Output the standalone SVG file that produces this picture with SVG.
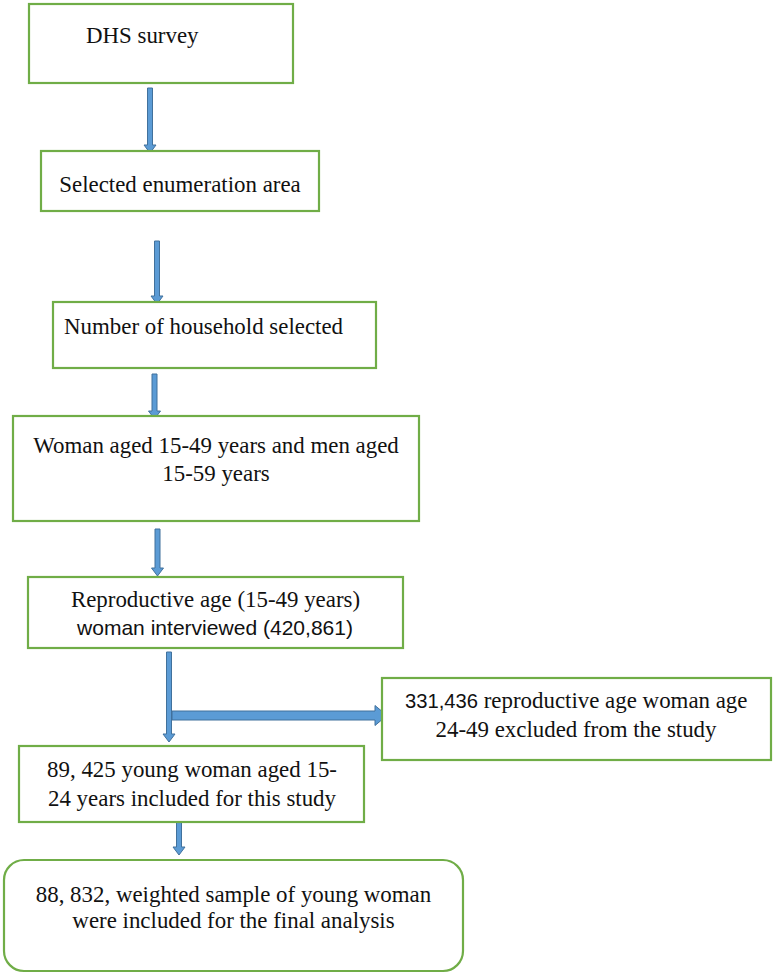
<svg xmlns="http://www.w3.org/2000/svg" width="774" height="975" viewBox="0 0 774 975">
<style>
.box{fill:#ffffff;stroke:#70AD47;stroke-width:2.2}
.t{font-family:"Liberation Serif","Times New Roman",serif;font-size:22.9px;fill:#111}
.s{font-family:"Liberation Sans",Arial,sans-serif;fill:#111}
.c{text-anchor:middle}
.arr{fill:#5B9BD5;stroke:#41719C;stroke-width:1}
</style>
<rect width="774" height="975" fill="#ffffff"/>
<g id="connectors">
<path class="arr" d="M147.5,88 H152.5 V145 H156 L150,153 L144,145 H147.5 Z"/>
<path class="arr" d="M154.5,241 H159.5 V296 H163 L157,304 L151,296 H154.5 Z"/>
<path class="arr" d="M152,374 H157 V411 H160.5 L154.5,419 L148.5,411 H152 Z"/>
<path class="arr" d="M155,529 H160 V568 H163.5 L157.5,576 L151.5,568 H155 Z"/>
<path class="arr" d="M166.5,652 H171.5 V734 H175 L169,742 L163,734 H166.5 Z"/>
<path class="arr" d="M172,711 H375 V705.5 L387,715.5 L375,725.5 V720 H172 Z"/>
<path class="arr" d="M176.5,822 H181.5 V847 H185 L179,855 L173,847 H176.5 Z"/>
</g>
<g id="n1"><rect class="box" x="29" y="4" width="264" height="79"/><text class="t" x="86" y="43">DHS survey</text></g>
<g id="n2"><rect class="box" x="41" y="151" width="278" height="60"/><text class="t c" x="180" y="192">Selected enumeration area</text></g>
<g id="n3"><rect class="box" x="53" y="302" width="323" height="66"/><text class="t" x="64" y="334">Number of household selected</text></g>
<g id="n4"><rect class="box" x="13" y="416" width="406" height="105"/><text class="t c" x="216" y="453">Woman aged 15-49 years and men aged</text><text class="t c" x="216" y="481">15-59 years</text></g>
<g id="n5"><rect class="box" x="28" y="577" width="375" height="71"/><text class="t c" x="215.5" y="607">Reproductive age (15-49 years)</text><text class="s" x="77" y="635" font-size="21" textLength="276" lengthAdjust="spacingAndGlyphs">woman interviewed (420,861)</text></g>
<g id="n6"><rect class="box" x="382" y="678" width="389" height="82"/><text class="t" x="405" y="708"><tspan class="s" font-size="21" textLength="73" lengthAdjust="spacingAndGlyphs">331,436</tspan> reproductive age woman age</text><text class="t c" x="576" y="737">24-49 excluded from the study</text></g>
<g id="n7"><rect class="box" x="19" y="746" width="345" height="76"/><text class="t c" x="192" y="777">89, 425 young woman aged 15-</text><text class="t c" x="192" y="806">24 years included for this study</text></g>
<g id="n8"><rect class="box" x="4" y="860" width="459" height="111" rx="20" ry="20"/><text class="t c" x="233.5" y="902">88, 832, weighted sample of young woman</text><text class="t c" x="233.5" y="928">were included for the final analysis</text></g>
</svg>
